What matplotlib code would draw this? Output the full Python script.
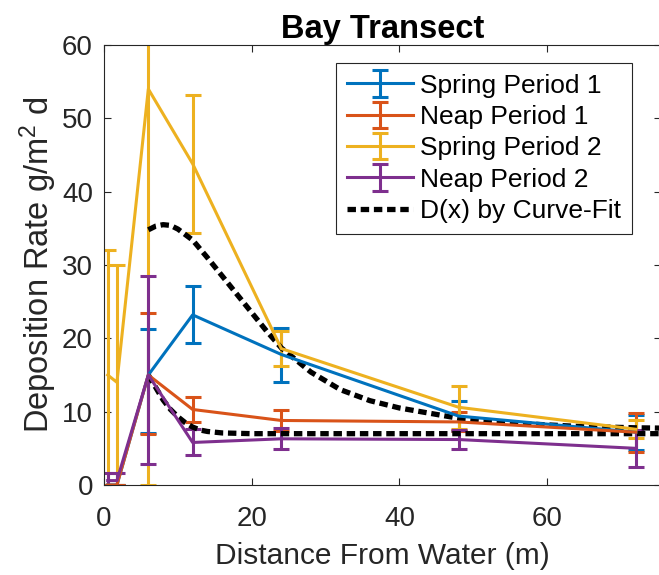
import matplotlib
matplotlib.use("Agg")
import matplotlib.pyplot as plt

plt.rcParams['font.family'] = ['Liberation Sans', 'DejaVu Sans']
plt.rcParams['mathtext.fontset'] = 'custom'
plt.rcParams['mathtext.rm'] = 'Liberation Sans'
plt.rcParams['mathtext.it'] = 'Liberation Sans'

# -----------------------------
# data
# -----------------------------
dist = [0.5, 1.75, 6, 12, 24, 48, 72]

spring1 = [0, 0, 15, 23.2, 17.8, 9.4, 7.2]
spring1_lo = [0, 0, 7.9, 3.9, 3.7, 2.0, 2.4]
spring1_hi = [0, 0, 6.3, 4.0, 3.6, 2.0, 2.3]

neap1 = [0, 0, 15, 10.3, 8.8, 8.6, 7.2]
neap1_lo = [0, 0, 8.0, 1.7, 1.4, 1.3, 2.7]
neap1_hi = [0, 0, 8.5, 1.7, 1.4, 1.3, 2.6]

spring2 = [15, 14, 54, 43.8, 18.6, 10.6, 7.6]
spring2_lo = [17, 16, 54, 9.5, 2.4, 2.9, 1.2]
spring2_hi = [17, 16, 54, 9.4, 2.4, 2.9, 1.2]

neap2 = [0.6, 0.6, 15, 5.8, 6.3, 6.2, 5.0]
neap2_lo = [1.0, 1.0, 12.2, 1.7, 1.4, 1.3, 2.5]
neap2_hi = [1.0, 1.0, 13.5, 1.9, 1.5, 1.3, 2.5]

fit1_x = [6, 7, 8, 9, 10, 12, 14, 16, 18, 20, 22, 24, 28, 32, 36, 40, 48, 56, 64, 72, 80]
fit1_y = [34.8, 35.3, 35.5, 35.4, 34.9, 33.4, 31.0, 28.5, 26.0, 23.5, 21.0, 18.7,
          15.4, 13.0, 11.5, 10.5, 9.1, 8.4, 8.0, 7.8, 7.7]
fit2_x = [6, 7, 8, 9, 10, 11, 12, 13, 14, 16, 20, 30, 80]
fit2_y = [15.0, 13.3, 11.6, 10.3, 9.3, 8.5, 7.9, 7.5, 7.3, 7.1, 7.0, 7.0, 7.0]

labels = ['Spring Period 1', 'Neap Period 1', 'Spring Period 2', 'Neap Period 2']
colors = ['#0072BD', '#D95319', '#EDB120', '#7E2F8E']

# -----------------------------
# plot
# -----------------------------
W, H = 659, 575
fig = plt.figure(figsize=(W / 100, H / 100), dpi=100)
# right edge of the axes sits just past the picture's border
ax = fig.add_axes([104 / W, 90 / H, 557 / W, 440 / H])

series = [(spring1, spring1_lo, spring1_hi), (neap1, neap1_lo, neap1_hi),
          (spring2, spring2_lo, spring2_hi), (neap2, neap2_lo, neap2_hi)]
handles = []
for (y, lo, hi), c, lab in zip(series, colors, labels):
    h = ax.errorbar(dist, y, yerr=[lo, hi], color=c, lw=2.2, elinewidth=2.2,
                    capsize=6, capthick=2.2, label=lab)
    handles.append(h)

fit_style = dict(color='black', lw=3.8, linestyle=(0, (1.6, 0.9)),
                 dash_capstyle='butt')
fl, = ax.plot(fit1_x, fit1_y, label='D(x) by Curve-Fit', **fit_style)
ax.plot(fit2_x, fit2_y, **fit_style)
handles.append(fl)

ax.set_xlim(0, 75.4)
ax.set_ylim(0, 60)
ax.set_xticks([0, 20, 40, 60])
ax.set_yticks(range(0, 61, 10))
ax.tick_params(direction='in', length=5, width=0.8, colors='#262626',
               labelsize=20, top=True, right=True)
ax.tick_params(axis='x', pad=15)
ax.tick_params(axis='y', pad=8)
for s in ax.spines.values():
    s.set_color('#262626')
    s.set_linewidth(0.8)

ax.set_xlabel('Distance From Water (m)', fontsize=21.5, color='#262626', labelpad=7)
ax.set_ylabel('Deposition Rate g/m$^{2}$ d', fontsize=23.5, color='#262626', labelpad=2)
ax.set_title('Bay Transect', fontsize=23.5, fontweight='bold', pad=5)

leg = ax.legend(handles=handles, loc='upper right', fontsize=19,
                bbox_to_anchor=(632 / W, 1 - 63 / H), bbox_transform=fig.transFigure,
                borderaxespad=0, handlelength=2.5, handletextpad=0.3,
                labelspacing=0.28, borderpad=0.4, fancybox=False, framealpha=1)
leg.get_frame().set_edgecolor('#262626')
leg.get_frame().set_linewidth(0.8)

fig.savefig('out.png', dpi=100)
